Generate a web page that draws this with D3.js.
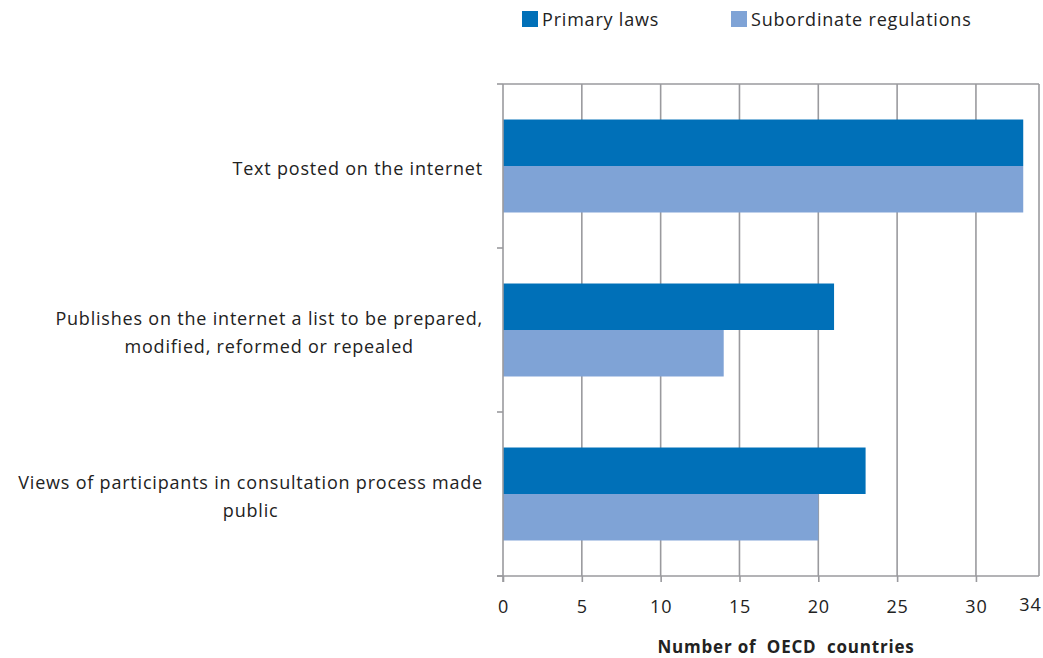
<!DOCTYPE html>
<html>
<head>
<meta charset="utf-8">
<script src="https://cdn.jsdelivr.net/npm/d3@7"></script>
<style>
  body { margin: 0; background: #fff; }
  svg { display: block; }
  text { font-family: "Open Sans", "Noto Sans", sans-serif; fill: #222; letter-spacing: 0.8px; }
</style>
</head>
<body>
<svg id="chart" width="1043" height="658"></svg>
<script>
// Regulatory transparency practices, counts of OECD countries
const categories = [
  "Text posted on the internet",
  "Publishes on the internet a list to be prepared,|modified, reformed or repealed",
  "Views of participants in consultation process made|public"
];
const seriesNames = ["Primary laws", "Subordinate regulations"];
const primaryLaws = [33, 21, 23];
const subordinateRegulations = [33, 14, 20];
const xTicks = [0, 5, 10, 15, 20, 25, 30, 34];
const axisTitle = "Number of  OECD  countries";

const colors = ["#0070b8", "#7fa3d6"];
const svg = d3.select("#chart");

const plot = { left: 503, right: 1039, top: 84, bottom: 576 };

const x = d3.scaleLinear().domain([0, 34]).range([plot.left, plot.right]);
const y = d3.scaleBand()
  .domain(d3.range(categories.length))
  .range([plot.top, plot.bottom])
  .paddingInner(0.433)
  .paddingOuter(0.2165);
const ySub = d3.scaleBand().domain([0, 1]).range([0, y.bandwidth()]);

const grid = "#9a9a9e";

// vertical gridlines
svg.append("g").selectAll("line")
  .data(xTicks.filter(t => t > 0))
  .join("line")
  .attr("x1", d => x(d)).attr("x2", d => x(d))
  .attr("y1", plot.top).attr("y2", plot.bottom)
  .attr("stroke", grid).attr("stroke-width", 1.6);

// top border
svg.append("line")
  .attr("x1", plot.left).attr("x2", plot.right)
  .attr("y1", plot.top).attr("y2", plot.top)
  .attr("stroke", grid).attr("stroke-width", 1.6);

// bars
const rows = categories.map((c, i) => [primaryLaws[i], subordinateRegulations[i]]);
const groups = svg.append("g").selectAll("g")
  .data(rows)
  .join("g")
  .attr("transform", (d, i) => `translate(0,${y(i)})`);
groups.selectAll("rect")
  .data(d => d)
  .join("rect")
  .attr("x", x(0))
  .attr("y", (d, j) => ySub(j))
  .attr("width", d => x(d) - x(0))
  .attr("height", ySub.bandwidth())
  .attr("fill", (d, j) => colors[j]);

// left axis with group boundary ticks
svg.append("line")
  .attr("x1", plot.left).attr("x2", plot.left)
  .attr("y1", plot.top).attr("y2", plot.bottom + 6)
  .attr("stroke", grid).attr("stroke-width", 1.6);
const step = y.step();
svg.append("g").selectAll("line")
  .data(d3.range(categories.length + 1))
  .join("line")
  .attr("x1", plot.left - 6).attr("x2", plot.left)
  .attr("y1", i => plot.top + i * step).attr("y2", i => plot.top + i * step)
  .attr("stroke", grid).attr("stroke-width", 1.6);

// bottom axis
const xAxis = d3.axisBottom(x).tickValues(xTicks).tickSize(6).tickSizeOuter(0).tickPadding(18);
const gx = svg.append("g")
  .attr("transform", `translate(0,${plot.bottom})`)
  .call(xAxis);
gx.select(".domain").attr("stroke", grid).attr("stroke-width", 1.6)
  .attr("d", `M${plot.left - 6},0H${plot.right}`);
gx.selectAll(".tick line").attr("stroke", grid).attr("stroke-width", 1.6);
gx.selectAll(".tick text")
  .attr("font-size", 18)
  .attr("fill", "#222")
  .style("font-family", '"Open Sans", "Noto Sans", sans-serif');
gx.selectAll(".tick").filter(d => d === 34).select("text")
  .attr("text-anchor", "end").attr("dx", 2).attr("dy", "0.6em");
gx.selectAll(".tick").filter(d => d === 34).select("line").remove();

// axis title
svg.append("text")
  .attr("x", 786).attr("y", 653)
  .attr("text-anchor", "middle")
  .attr("font-size", 17)
  .attr("font-weight", "bold")
  .attr("xml:space", "preserve")
  .style("white-space", "pre")
  .text(axisTitle);

// category labels: right-aligned block, lines centred within the block
const labelRight = 483;
const lineH = 28;
categories.forEach((c, i) => {
  const lines = c.split("|");
  const g = svg.append("g");
  const texts = lines.map(l => g.append("text")
    .attr("font-size", 18)
    .attr("text-anchor", "middle")
    .text(l));
  const maxW = d3.max(texts, t => t.node().getComputedTextLength());
  const cx = labelRight - maxW / 2;
  const cy = y(i) + y.bandwidth() / 2 + 3;
  texts.forEach((t, k) => {
    t.attr("x", cx)
     .attr("y", cy + (k - (lines.length - 1) / 2) * lineH)
     .attr("dy", "0.35em");
  });
});

// legend
const legendPos = [522, 731];
seriesNames.forEach((name, j) => {
  svg.append("rect")
    .attr("x", legendPos[j]).attr("y", 11)
    .attr("width", 16).attr("height", 16)
    .attr("fill", colors[j]);
  svg.append("text")
    .attr("x", legendPos[j] + 20).attr("y", 20)
    .attr("dy", "0.35em")
    .attr("font-size", 18)
    .text(name);
});
</script>
</body>
</html>
